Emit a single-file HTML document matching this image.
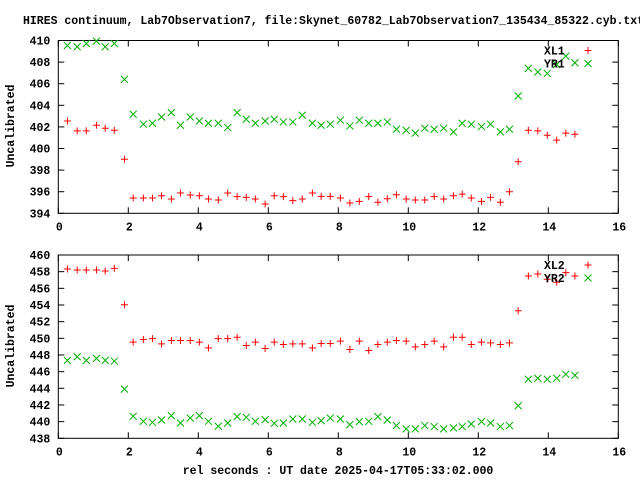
<!DOCTYPE html>
<html><head><meta charset="utf-8"><style>
html,body{margin:0;padding:0;background:#fff;}
svg{display:block;font-family:"Liberation Mono","DejaVu Sans Mono",monospace;font-weight:bold;font-size:11.5px;}
</style></head><body>
<svg id="chart" width="640" height="480" viewBox="0 0 640 480" xmlns="http://www.w3.org/2000/svg">
<rect x="0" y="0" width="640" height="480" fill="#fff"/>
<text x="23" y="24">HIRES continuum, Lab7Observation7, file:Skynet_60782_Lab7Observation7_135434_85322.cyb.txt</text>
<text transform="translate(14,126) rotate(-90)" text-anchor="middle">Uncalibrated</text>
<text transform="translate(14,346) rotate(-90)" text-anchor="middle">Uncalibrated</text>
<text x="338" y="474" text-anchor="middle">rel seconds : UT date 2025-04-17T05:33:02.000</text>
<g id="p1"></g>
<g id="p2"></g>
</svg>
<script>
const times = [0.26,0.54,0.80,1.09,1.34,1.60,1.89,2.14,2.43,2.69,2.95,3.23,3.49,3.77,4.03,4.29,4.57,4.84,5.11,5.37,5.63,5.91,6.17,6.43,6.70,6.97,7.26,7.51,7.77,8.06,8.33,8.60,8.87,9.13,9.40,9.66,9.94,10.20,10.47,10.74,11.01,11.29,11.54,11.80,12.09,12.35,12.63,12.89,13.14,13.43,13.70,13.97,14.24,14.50,14.76];
const xl1 = [402.55,401.63,401.63,402.15,401.88,401.69,399.0,395.42,395.42,395.42,395.63,395.32,395.88,395.69,395.63,395.32,395.23,395.88,395.54,395.48,395.32,394.86,395.63,395.54,395.17,395.32,395.88,395.57,395.57,395.42,394.95,395.1,395.54,395.02,395.35,395.72,395.32,395.23,395.23,395.54,395.32,395.63,395.78,395.42,395.1,395.48,395.02,396.0,398.77,401.69,401.63,401.23,400.77,401.42,401.32];
const yr1 = [409.54,409.42,409.72,409.94,409.42,409.72,406.4,403.17,402.25,402.34,402.92,403.32,402.15,402.92,402.55,402.34,402.34,401.94,403.32,402.71,402.34,402.55,402.71,402.46,402.46,403.08,402.34,402.15,402.25,402.62,402.09,402.62,402.34,402.34,402.46,401.78,401.69,401.42,401.88,401.78,401.88,401.54,402.34,402.25,402.03,402.25,401.54,401.78,404.86,407.42,407.08,406.95,407.78,408.55,407.94];
const xl2 = [458.32,458.2,458.2,458.2,458.08,458.4,454.03,449.54,449.86,449.97,449.34,449.74,449.74,449.74,449.54,448.86,449.97,449.97,450.13,449.14,449.54,448.78,449.54,449.26,449.34,449.34,448.86,449.38,449.38,449.66,448.66,449.66,448.54,449.26,449.54,449.74,449.66,448.98,449.26,449.66,448.98,450.13,450.13,449.26,449.54,449.46,449.26,449.46,453.31,457.48,457.72,457.09,456.73,457.88,457.48];
const yr2 = [447.35,447.79,447.35,447.59,447.35,447.27,443.9,440.64,440.04,439.92,440.2,440.72,439.84,440.44,440.72,440.04,439.45,439.84,440.6,440.52,440.04,440.24,439.8,439.84,440.32,440.32,439.92,440.12,440.44,440.32,439.64,440.0,440.04,440.6,440.2,439.53,439.13,439.13,439.53,439.41,439.13,439.25,439.41,439.72,440.0,439.84,439.41,439.53,441.91,445.09,445.21,445.09,445.21,445.68,445.56];
const xTicks = [0,2,4,6,8,10,12,14,16];
const yTicks1 = [394,396,398,400,402,404,406,408,410];
const yTicks2 = [438,440,442,444,446,448,450,452,454,456,458,460];
const legend1 = ["XL1","YR1"];
const legend2 = ["XL2","YR2"];

const NS="http://www.w3.org/2000/svg";
function mk(tag,attrs,parent){const e=document.createElementNS(NS,tag);for(const k in attrs)e.setAttribute(k,attrs[k]);parent.appendChild(e);return e;}
const L=58.3,R=618.3;
function sx(v){return L+(v-0)/(16-0)*(R-L);}

function panel(g,top,bot,ymin,ymax,yTicks,s1,s2,leg,showX){
  const sy=v=>bot-(v-ymin)/(ymax-ymin)*(bot-top);
  for(const t of yTicks){
    const y=sy(t);
    const a=mk('line',{x1:L,x2:L+6,y1:y,y2:y,stroke:'#000','stroke-width':1},g);
    
    
    const b=mk('line',{x1:R-6,x2:R,y1:y,y2:y,stroke:'#000','stroke-width':1},g);
    
    
    const tx=mk('text',{x:L-8,y:y+4,'text-anchor':'end'},g);
    tx.textContent=t;
    
    
  }
  for(const t of xTicks){
    const x=sx(t);
    const a=mk('line',{x1:x,x2:x,y1:bot,y2:bot-6,stroke:'#000','stroke-width':1},g);
    
    
    const b=mk('line',{x1:x,x2:x,y1:top,y2:top+6,stroke:'#000','stroke-width':1},g);
    
    
    const tx=mk('text',{x:x+1,y:bot+17,'text-anchor':'middle'},g);
    tx.textContent=t;
    
    
  }
  const fr=mk('rect',{x:L,y:top,width:R-L,height:bot-top,fill:'none',stroke:'#000','stroke-width':1},g);
  
  
  function plus(x,y,name){
    const p=mk('path',{d:`M${x-3.5},${y}H${x+3.5}M${x},${y-3.5}V${y+3.5}`,stroke:'#ff0000','stroke-width':1,fill:'none'},g);
    
    
  }
  function cross(x,y,name){
    const p=mk('path',{d:`M${x-3.5},${y-3.5}L${x+3.5},${y+3.5}M${x-3.5},${y+3.5}L${x+3.5},${y-3.5}`,stroke:'#00b000','stroke-width':1,fill:'none'},g);
    
    
  }
  for(let i=0;i<times.length;i++){
    plus(sx(times[i]),sy(s1[i]),'point-'+leg[0].toLowerCase());
    cross(sx(times[i]),sy(s2[i]),'point-'+leg[1].toLowerCase());
  }
  const l1=mk('text',{x:544,y:top+14},g);l1.textContent=leg[0];
  
  
  const l2=mk('text',{x:544,y:top+27},g);l2.textContent=leg[1];
  
  
  plus(588,top+10,'legend-marker-1');
  cross(588,top+23,'legend-marker-2');
}
panel(document.getElementById('p1'),40.5,213.3,394,410,yTicks1,xl1,yr1,legend1,true);
panel(document.getElementById('p2'),255,438.3,438,460,yTicks2,xl2,yr2,legend2,true);
</script>
</body></html>
